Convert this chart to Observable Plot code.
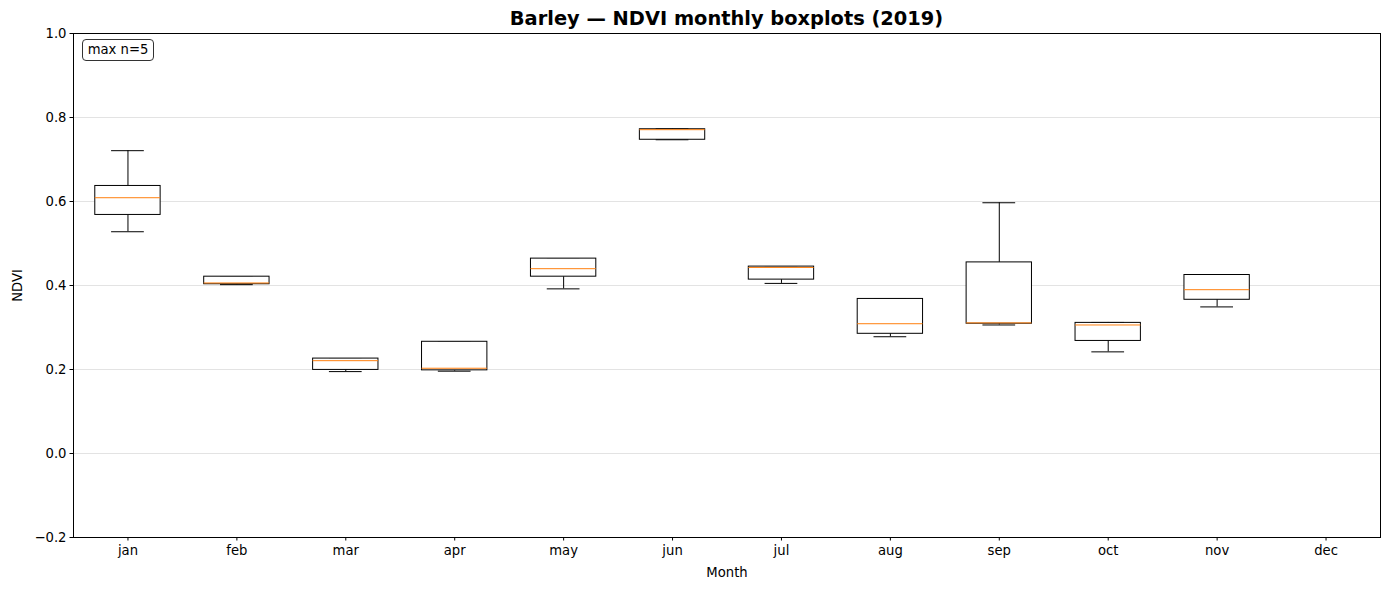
<!DOCTYPE html>
<html>
<head>
<meta charset="utf-8">
<script src="https://cdn.jsdelivr.net/npm/d3@7"></script>
<script src="https://cdn.jsdelivr.net/npm/@observablehq/plot@0.6"></script>
<style>
  html, body { margin: 0; padding: 0; background: #fff; }
  body { width: 1389px; height: 590px; position: relative; overflow: hidden; font-family: "DejaVu Sans", sans-serif; }
  #title { height: 28px; width: 1389px; position: relative; }
  #title span { position: absolute; left: 726.5px; top: 18px; transform: translate(-50%, -50%); font-weight: bold; font-size: 19.4px; white-space: nowrap; }
  #chart svg { overflow: visible; }
  #note { position: absolute; left: 82px; top: 39px; width: 72px; height: 22px; box-sizing: border-box; border: 1px solid #333; border-radius: 4px; font-size: 13.2px; line-height: 20px; text-align: center; background: #fff; }
</style>
</head>
<body>
<div id="title"><span>Barley — NDVI monthly boxplots (2019)</span></div>
<div id="chart"></div>
<div id="note">max n=5</div>
<script>
const months = ["jan","feb","mar","apr","may","jun","jul","aug","sep","oct","nov","dec"];
const statMonths = ["jan","feb","mar","apr","may","jun","jul","aug","sep","oct","nov"];
const whiskerLow  = [0.528, 0.402, 0.195, 0.196, 0.392, 0.747, 0.405, 0.278, 0.306, 0.242, 0.349];
const q1          = [0.568, 0.403, 0.199, 0.198, 0.421, 0.747, 0.414, 0.285, 0.309, 0.268, 0.366];
const median      = [0.609, 0.406, 0.221, 0.203, 0.440, 0.771, 0.443, 0.309, 0.311, 0.306, 0.390];
const q3          = [0.637, 0.421, 0.226, 0.266, 0.464, 0.772, 0.445, 0.368, 0.455, 0.311, 0.425];
const whiskerHigh = [0.721, 0.421, 0.226, 0.266, 0.464, 0.773, 0.445, 0.368, 0.597, 0.312, 0.425];
const yTicks = [-0.2, 0.0, 0.2, 0.4, 0.6, 0.8, 1.0];

const data = statMonths.map((m, i) => ({
  month: m, lo: whiskerLow[i], q1: q1[i], med: median[i], q3: q3[i], hi: whiskerHigh[i]
}));

const capInset = 16.3;

const chart = Plot.plot({
  width: 1389,
  height: 562,
  marginTop: 5,
  marginBottom: 53,
  marginLeft: 73,
  marginRight: 9,
  style: { fontFamily: "DejaVu Sans, sans-serif", fontSize: "13.2px", color: "black", background: "white", overflow: "visible" },
  x: { type: "band", domain: months, paddingInner: 0.4, paddingOuter: 0.2, round: false },
  y: { domain: [-0.2, 1.0] },
  marks: [
    Plot.gridY(yTicks, { stroke: "#e3e3e3", strokeOpacity: 1 }),
    Plot.axisY(yTicks, { tickSize: 3.5, tickPadding: 3.5, tickFormat: d3.format(".1f"), label: "NDVI", labelAnchor: "center", labelArrow: "none", labelOffset: 61 }),
    Plot.axisX({ tickSize: 3.5, tickPadding: 5, label: "Month", labelAnchor: "center", labelArrow: "none", labelOffset: 39 }),
    Plot.ruleX(data, { x: "month", y1: "q3", y2: "hi", stroke: "black", strokeWidth: 1 }),
    Plot.ruleX(data, { x: "month", y1: "lo", y2: "q1", stroke: "black", strokeWidth: 1 }),
    Plot.tickY(data, { x: "month", y: "hi", stroke: "black", strokeWidth: 1, insetLeft: capInset, insetRight: capInset }),
    Plot.tickY(data, { x: "month", y: "lo", stroke: "black", strokeWidth: 1, insetLeft: capInset, insetRight: capInset }),
    Plot.barY(data, { x: "month", y1: "q1", y2: "q3", fill: "white", stroke: "black", strokeWidth: 1 }),
    Plot.tickY(data, { x: "month", y: "med", stroke: "#ff7f0e", strokeWidth: 1 }),
    Plot.frame({ stroke: "black", strokeWidth: 1 })
  ]
});
document.getElementById("chart").appendChild(chart);
</script>
</body>
</html>
